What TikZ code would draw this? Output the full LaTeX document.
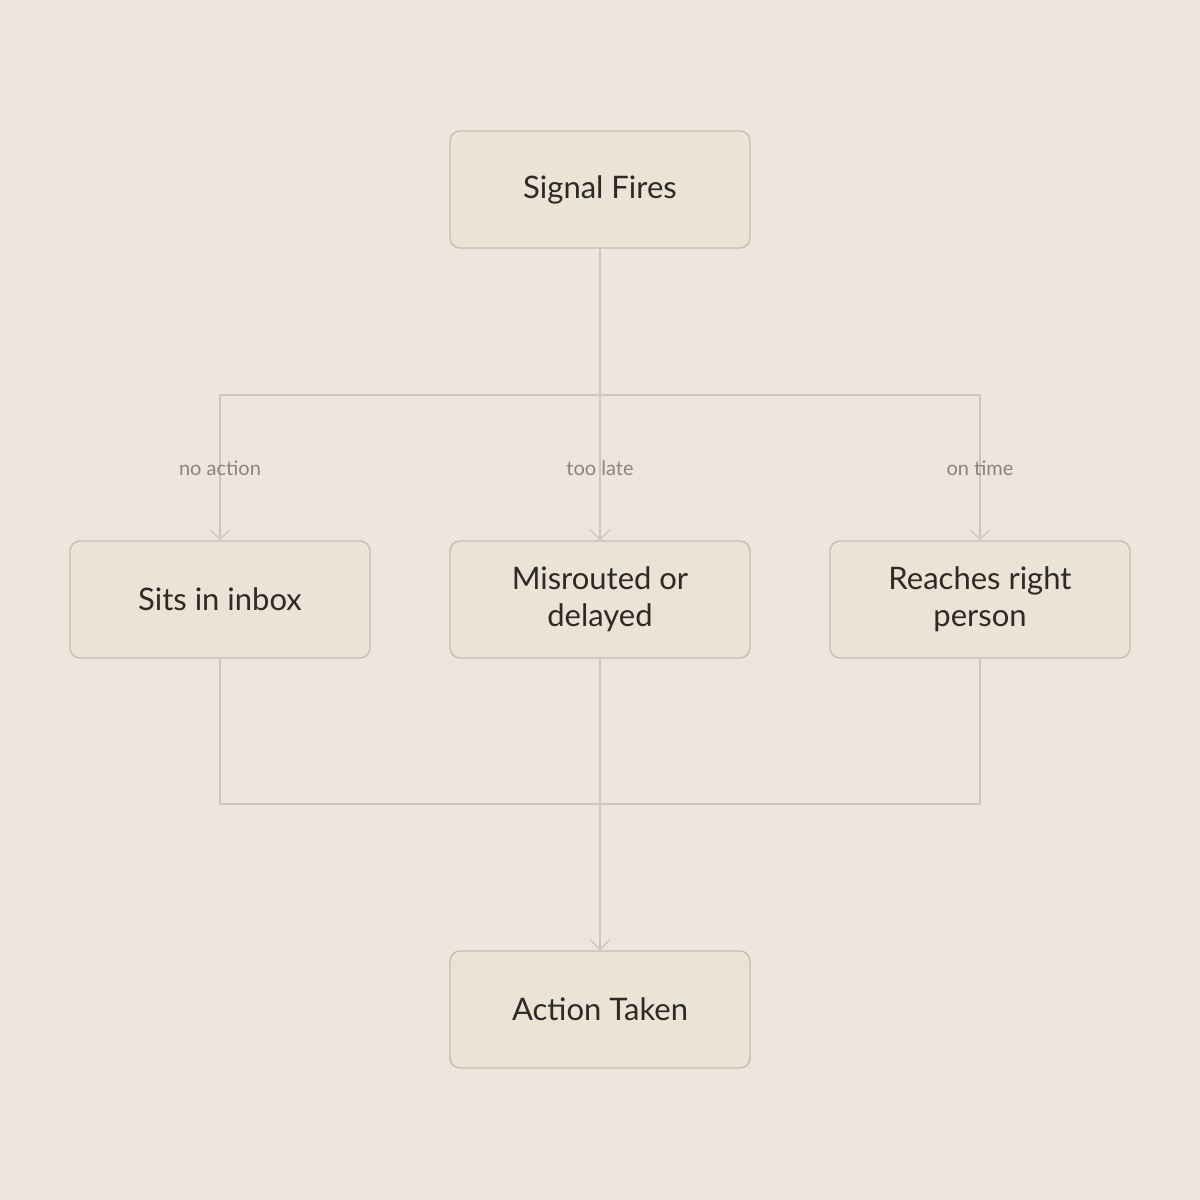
\documentclass[tikz,border=0pt]{standalone}
\usepackage{fontspec}
\setmainfont{Lato}
\usetikzlibrary{arrows.meta}
\definecolor{bgc}{HTML}{EDE6DD}
\definecolor{boxfill}{HTML}{EAE3D6}
\definecolor{boxline}{HTML}{C4BDB2}
\definecolor{wire}{HTML}{CDC6BC}
\definecolor{ink}{HTML}{2E2A26}
\definecolor{note}{HTML}{8A857C}
\tikzset{
  stage/.style={draw=boxline,fill=boxfill,rounded corners=5pt,line width=0.7pt,
    minimum width=150pt,minimum height=58.5pt,align=center,text=ink,
    font=\fontsize{15.5}{18.5}\selectfont,inner sep=2pt},
  link/.style={draw=wire,line width=0.6pt},
  tip/.style={link,-{Straight Barb[length=5pt,width=10pt,line width=0.6pt]}},
  lbl/.style={text=note,font=\fontsize{10}{12}\selectfont,inner sep=1pt}
}
\begin{document}
\begin{tikzpicture}[x=0.5pt,y=0.5pt,yscale=-1]
\fill[bgc] (0,0) rectangle (1200,1200);
\useasboundingbox (0,0) rectangle (1200,1200);

% bus points
\coordinate (split) at (600,395);
\coordinate (splitL) at (220,395);
\coordinate (splitR) at (980,395);
\coordinate (merge) at (600,804);
\coordinate (mergeL) at (220,804);
\coordinate (mergeR) at (980,804);

% boxes
\node[stage] (signal) at (600,189.5) {Signal Fires};
\node[stage] (inbox) at (220,599.5) {Sits in inbox};
\node[stage] (delay) at (600,599.5) {Misrouted or\\delayed};
\node[stage] (right) at (980,599.5) {Reaches right\\person};
\node[stage] (action) at (600,1009.5) {Action Taken};

% fan out
\draw[link] (signal.south) -- (split);
\draw[link] (splitL) -- (splitR);
\draw[tip] (splitL) -- (inbox.north);
\draw[tip] (split) -- (delay.north);
\draw[tip] (splitR) -- (right.north);

% fan in
\draw[link] (inbox.south) -- (mergeL) -- (mergeR) -- (right.south);
\draw[tip] (delay.south) -- (action.north);

% labels
\node[lbl] (noact) at (220,468) {no action};
\node[lbl] (late) at (600,468) {too late};
\node[lbl] (ontime) at (980,468) {on time};
\end{tikzpicture}
\end{document}
